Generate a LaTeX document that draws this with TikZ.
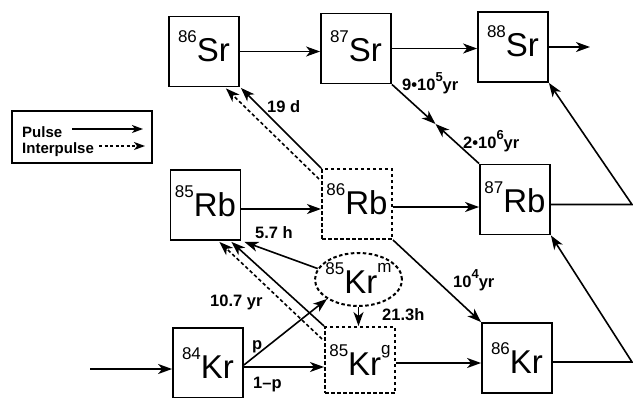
\documentclass[tikz,border=0pt]{standalone}
\usepackage{fontspec}
\setmainfont{Liberation Sans}
\usetikzlibrary{arrows.meta,calc,shapes.geometric}
\newcommand\isoA[2]{\raisebox{19pt}{\fontsize{17}{17}\selectfont #1}{\fontsize{33}{33}\selectfont #2}}
\newcommand\isoB[3]{\raisebox{19pt}{\fontsize{17}{17}\selectfont #1}{\fontsize{33}{33}\selectfont #2}\raisebox{21pt}{\fontsize{17}{17}\selectfont #3}}
\newcommand\supr[1]{\raisebox{9pt}{\fontsize{13}{13}\selectfont #1}}
\tikzset{
  isobox/.style={draw, line width=1.8pt, minimum width=70pt, minimum height=70pt, inner sep=0pt},
  dbox/.style={isobox, line width=2pt, dash pattern=on 3.5pt off 2.5pt},
  pulse/.style={line width=1.6pt, -{Stealth[length=14pt,width=10pt,inset=4pt]}},
  ipulse/.style={pulse, dash pattern=on 3.5pt off 2.5pt},
  lbl/.style={font=\fontsize{16.5}{16.5}\selectfont\bfseries, inner sep=0pt, anchor=base west},
}
\begin{document}
\begin{tikzpicture}[x=1pt,y=-1pt]
\useasboundingbox (0,0) rectangle (633,397);
% legend
\node[draw, line width=1.6pt, minimum width=140pt, minimum height=52pt, inner sep=0pt] (leg) at (82,137) {};
\node[lbl, font=\fontsize{15}{15}\selectfont\bfseries] (pl) at (22,137) {Pulse};
\node[lbl, font=\fontsize{15}{15}\selectfont\bfseries] (ip) at (22,153) {Interpulse};
\coordinate (pa) at (72,129);
\coordinate (pb) at (143,129);
\coordinate (ia) at (99,146);
\coordinate (ib) at (145,146);
\draw[line width=1.6pt, -{Stealth[length=11pt,width=8pt,inset=3pt]}] (pa) -- (pb);
\draw[line width=1.6pt, dash pattern=on 3pt off 2.5pt, -{Stealth[length=11pt,width=8pt,inset=3pt]}] (ia) -- (ib);
% isotopes
\node[isobox, text depth=10pt] (Sr86) at (204,51.5) {\isoA{86}{Sr}};
\node[isobox, text depth=4pt] (Sr87) at (356,48.5) {\isoA{87}{Sr}};
\node[isobox, text depth=11pt] (Sr88) at (513,47) {\isoA{88}{Sr}};
\node[isobox, text depth=7pt] (Rb85) at (205.5,205) {\isoA{85}{Rb}};
\node[dbox, text depth=9pt] (Rb86) at (357,204) {\isoA{86}{Rb}};
\node[isobox, text depth=4pt] (Rb87) at (515,199.5) {\isoA{87}{Rb}};
\node[isobox] (Kr84) at (208,363) {\isoA{84}{Kr}};
\node[dbox, minimum height=66pt] (Krg85) at (360,360) {\isoB{85}{Kr}{g}};
\node[isobox] (Kr86) at (517,358) {\isoA{86}{Kr}};
\node[ellipse, draw, line width=2pt, dash pattern=on 3.5pt off 2.5pt, minimum width=87pt, minimum height=53pt, inner sep=0pt, text depth=2pt] (Krm85) at (358.5,279.5) {\makebox[0pt]{\isoB{85}{Kr}{m}}};
% free ends
\coordinate (in) at (90,369);
\coordinate (out) at (590,47);
\coordinate (r1) at (632,204.5);
\coordinate (r2) at (632,362);
\coordinate (mid) at ($(Sr87.south east)!0.5!(Rb87.north west)$);
% connectors
\draw[pulse] (in) -- (in -| Kr84.west);
\draw[pulse] ($(Kr84.east)+(0,4)$) coordinate (a1) -- (a1 -| Krg85.west);
\draw[pulse] ($(Kr84.east)+(0,2)$) -- (Krm85.south west);
\draw[pulse] (Krm85.south) -- (Krm85.south |- Krg85.north);
\draw[pulse] (Krm85.165) -- ($(Rb85.south east)+(3,1)$);
\draw[pulse] (Krg85.north west) -- ($(Rb85.south east)+(-10,1)$);
\draw[ipulse] ($(Krg85.north west)+(-2,13)$) -- ($(Rb85.south east)+(-22,1)$);
\draw[pulse] ($(Rb85.east)+(0,4)$) coordinate (a2) -- (a2 -| Rb86.west);
\draw[pulse] ($(Rb86.east)+(0,3)$) coordinate (a3) -- (a3 -| Rb87.west);
\draw[pulse] (Rb86.north west) -- ($(Sr86.south east)+(1,0.5)$);
\draw[ipulse] ($(Rb86.north west)+(-2,11)$) -- ($(Sr86.south east)+(-14,1)$);
\draw[pulse] (Sr86.east) -- (Sr86.east -| Sr87.west);
\draw[pulse] (Sr87.east) -- (Sr87.east -| Sr88.west);
\draw[pulse] (Sr88.east) -- (out);
\draw[pulse] (Sr87.south east) -- (mid);
\draw[pulse] (Rb87.north west) -- (mid);
\draw[pulse] ($(Rb87.east)+(0,5)$) -- (r1) -- (Sr88.south east);
\draw[pulse] ($(Kr86.east)+(0,4)$) -- (r2) -- (Rb87.south east);
\draw[pulse] (Rb86.south east) -- (Kr86.north west);
\draw[pulse] ($(Krg85.east)+(0,3)$) coordinate (a4) -- (a4 -| Kr86.west);
% labels
\node[lbl] (l19d) at (267,112) {19 d};
\node[lbl] (l57h) at (255,238) {5.7 h};
\node[lbl] (l107) at (210,306) {10.7 yr};
\node[lbl] (lp) at (252,349) {p};
\node[lbl] (l1p) at (253,388) {1–p};
\node[lbl] (l213) at (382,320) {21.3h};
\node[lbl] (l104) at (453,287) {10\supr{4}yr};
\node[lbl] (l9e5) at (402,90) {9•10\supr{5}yr};
\node[lbl] (l2e6) at (463,148) {2•10\supr{6}yr};
\end{tikzpicture}
\end{document}
